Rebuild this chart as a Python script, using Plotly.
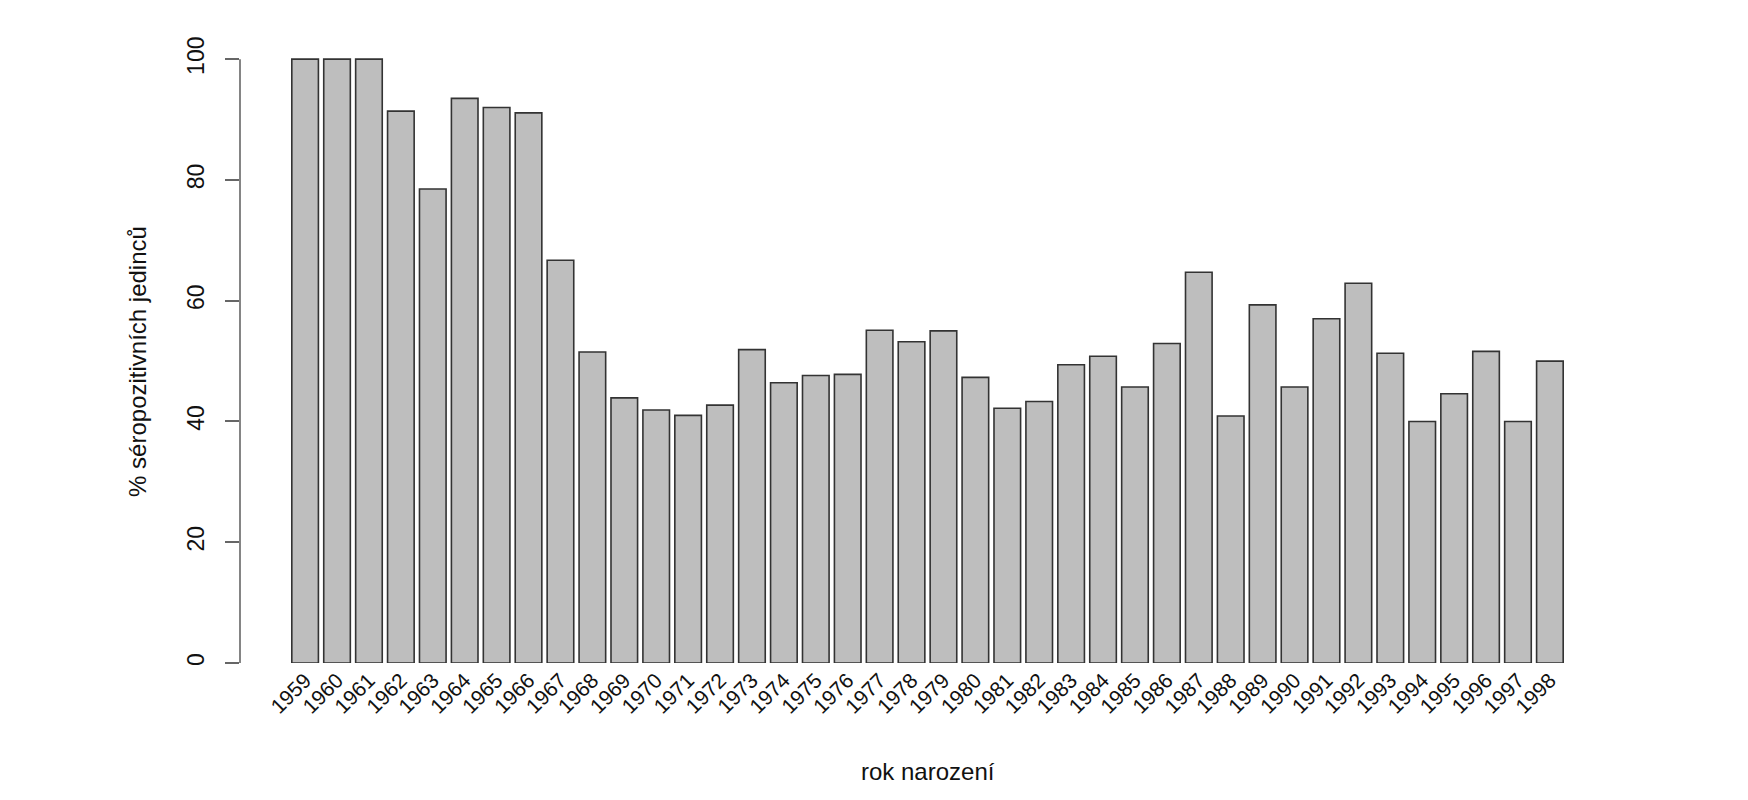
import plotly.graph_objects as go

# rok narození a % séropozitivních jedinců
years = [str(y) for y in range(1959, 1999)]
pct = [100, 100, 100, 91.4, 78.5, 93.5, 92.0, 91.1, 66.7, 51.5,
       43.9, 41.9, 41.0, 42.7, 51.9, 46.4, 47.6, 47.8, 55.1, 53.2,
       55.0, 47.3, 42.2, 43.3, 49.4, 50.8, 45.7, 52.9, 64.7, 40.9,
       59.3, 45.7, 57.0, 62.9, 51.3, 40.0, 44.6, 51.6, 40.0, 50.0]
y_ticks = [0, 20, 40, 60, 80, 100]

font = "Liberation Sans, Arial, Helvetica, sans-serif"

fig = go.Figure(go.Bar(
    x=years, y=pct,
    marker=dict(color="#bebebe", line=dict(color="#333333", width=1.6)),
    showlegend=False,
))

# osa y jen od 0 do 100 jako v R
fig.add_shape(type="line", xref="paper", yref="y", x0=0, x1=0,
              y0=min(y_ticks), y1=max(y_ticks),
              line=dict(color="#666666", width=1.6))

fig.add_annotation(text="% séropozitivních jedinců", xref="paper", yref="paper",
                   x=-0.0742, y=0.481, xanchor="center", yanchor="middle",
                   textangle=-90, showarrow=False,
                   font=dict(family=font, size=24, color="#111111"))
fig.add_annotation(text="rok narození", xref="paper", yref="paper",
                   x=0.5, y=-0.172, xanchor="center", yanchor="middle",
                   showarrow=False,
                   font=dict(family=font, size=24, color="#111111"))

# stránka má okraj 8 px, proto jsou okraje o 8 px posunuté
fig.update_layout(
    width=1748, height=800,
    margin=dict(l=232, r=141, t=27, b=145),
    plot_bgcolor="white", paper_bgcolor="white",
    bargap=0.2 / 1.2,
    font=dict(family=font, size=23, color="#111111"),
    xaxis=dict(type="category", range=[-2.04, 41.04], showline=False,
               showgrid=False, ticks="", tickangle=-45, zeroline=False,
               automargin=False, tickfont=dict(size=21)),
    yaxis=dict(range=[0, 104], tickvals=y_ticks, showline=False,
               showgrid=False, zeroline=False, ticks="outside", ticklen=14,
               tickwidth=1.6, tickcolor="#666666", tickangle=-90,
               ticklabelstandoff=12, automargin=False),
)

fig.write_html("out.html")
